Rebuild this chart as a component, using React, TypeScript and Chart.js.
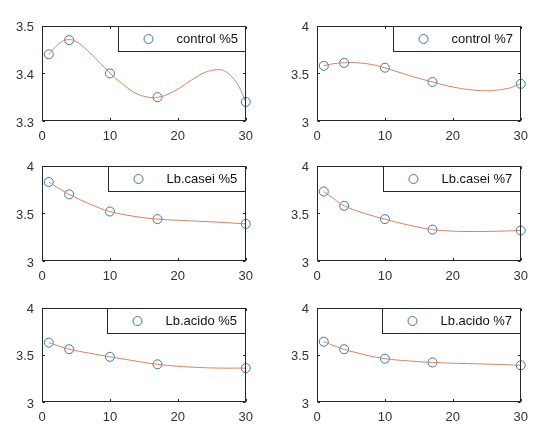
import React, { useEffect, useRef } from "react";
import { Chart, registerables } from "chart.js";

Chart.register(...registerables);

// ---- data ----
const days = [1, 4, 10, 17, 30];

const control5 = [3.44, 3.47, 3.4, 3.35, 3.34];
const control7 = [3.58, 3.61, 3.56, 3.41, 3.39];
const casei5 = [3.83, 3.7, 3.52, 3.44, 3.39];
const casei7 = [3.73, 3.58, 3.44, 3.33, 3.32];
const acido5 = [3.63, 3.56, 3.48, 3.4, 3.36];
const acido7 = [3.64, 3.56, 3.46, 3.42, 3.39];

// fitted curves
const fitXControl5 = [1, 2, 3, 4, 5, 6, 7, 8.5, 10, 12, 14, 16, 17, 18, 20, 22, 24, 26, 27, 28, 29, 30];
const fitControl5 = [3.44, 3.456, 3.467, 3.471, 3.467, 3.457, 3.444, 3.423, 3.401, 3.376, 3.357, 3.349, 3.35, 3.353, 3.367, 3.386, 3.402, 3.408, 3.404, 3.392, 3.372, 3.34];

const fitXControl7 = [1, 2, 3, 4, 5, 6, 8, 10, 12, 14, 17, 19, 21, 23, 24.5, 26, 28, 29, 30];
const fitControl7 = [3.58, 3.596, 3.607, 3.612, 3.614, 3.611, 3.594, 3.558, 3.513, 3.468, 3.41, 3.373, 3.344, 3.325, 3.318, 3.321, 3.341, 3.362, 3.39];

const fitXMono = [1, 2.5, 4, 7, 10, 13.5, 17, 20, 23, 26, 30];
const fitCasei5 = [3.83, 3.762, 3.7, 3.6, 3.52, 3.47, 3.44, 3.428, 3.418, 3.407, 3.39];
const fitCasei7 = [3.73, 3.652, 3.58, 3.5, 3.44, 3.377, 3.33, 3.314, 3.31, 3.312, 3.32];
const fitAcido5 = [3.63, 3.594, 3.56, 3.518, 3.48, 3.438, 3.4, 3.38, 3.367, 3.36, 3.36];
const fitAcido7 = [3.64, 3.598, 3.56, 3.502, 3.46, 3.436, 3.42, 3.412, 3.406, 3.4, 3.39];

const seriesLabels = ["control %5", "control %7", "Lb.casei %5", "Lb.casei %7", "Lb.acido %5", "Lb.acido %7"];

const xTicks = [0, 10, 20, 30];
const xTickLabels = ["0", "10", "20", "30"];
const yTicksA = [3.3, 3.4, 3.5];
const yTickLabelsA = ["3.3", "3.4", "3.5"];
const yTicksB = [3, 3.5, 4];
const yTickLabelsB = ["3", "3.5", "4"];

// ---- styles / layout ----
const FONT = "'Liberation Sans', Arial, Helvetica, sans-serif";
const TEXT = "#333333";
const AXIS = "#262626";
const BLUE = "#3b78a8";
const ORANGE = "#d4835f";

const colLeft = [42, 317];
const rowTop = [20, 160, 302];
const rowHeight = [101, 101, 100];
const plotWidth = 209;
const padL = 42;
const padT = 10;
const padR = 10;
const padB = 24;

type PanelProps = {
  label: string;
  ys: number[];
  fitX: number[];
  fitY: number[];
  yTicks: number[];
  yTickLabels: string[];
  left: number;
  top: number;
  height: number;
};

const boxPlugin = {
  id: "matlabBox",
  afterDraw(chart: any) {
    const { ctx, chartArea: a, scales } = chart;
    const label: string = chart.options.plugins.matlabBox.label;
    const yTicks: number[] = chart.options.plugins.matlabBox.yTicks;
    ctx.save();
    ctx.strokeStyle = AXIS;
    ctx.lineWidth = 1;
    const l = Math.round(a.left) + 0.5;
    const r = Math.round(a.right) - 0.5;
    const t = Math.round(a.top) + 0.5;
    const b = Math.round(a.bottom) - 0.5;
    ctx.strokeRect(l, t, r - l, b - t);
    const tl = 2.5;
    ctx.beginPath();
    for (const v of xTicks) {
      const px = Math.round(scales.x.getPixelForValue(v)) + 0.5;
      ctx.moveTo(px, b);
      ctx.lineTo(px, b - tl);
      ctx.moveTo(px, t);
      ctx.lineTo(px, t + tl);
    }
    for (const v of yTicks) {
      const py = Math.round(scales.y.getPixelForValue(v)) + 0.5;
      ctx.moveTo(l, py);
      ctx.lineTo(l + tl, py);
      ctx.moveTo(r, py);
      ctx.lineTo(r - tl, py);
    }
    ctx.stroke();

    // legend box, top-right inside the axes
    ctx.font = `13px ${FONT}`;
    const tw = ctx.measureText(label).width;
    const w = Math.round(tw + 66);
    const h = 25;
    const lx = r - w;
    ctx.fillStyle = "#ffffff";
    ctx.fillRect(lx, t, w, h);
    ctx.strokeStyle = AXIS;
    ctx.strokeRect(lx, t, w, h);
    ctx.beginPath();
    ctx.strokeStyle = BLUE;
    ctx.arc(lx + 30, t + h / 2, 4.5, 0, Math.PI * 2);
    ctx.stroke();
    ctx.fillStyle = "#111111";
    ctx.textBaseline = "middle";
    ctx.textAlign = "left";
    ctx.fillText(label, lx + 58, t + h / 2 + 0.5);
    ctx.restore();
  },
};

function Panel(p: PanelProps) {
  const ref = useRef<HTMLCanvasElement>(null);
  const cw = padL + plotWidth + padR;
  const ch = padT + p.height + padB;
  useEffect(() => {
    if (!ref.current) return;
    const chart = new Chart(ref.current, {
      type: "scatter",
      data: {
        datasets: [
          {
            label: "fit",
            data: p.fitX.map((x, i) => ({ x, y: p.fitY[i] })),
            showLine: true,
            borderColor: ORANGE,
            borderWidth: 1,
            pointRadius: 0,
            tension: 0.4,
            clip: false,
          } as any,
          {
            label: p.label,
            data: days.map((x, i) => ({ x, y: p.ys[i] })),
            showLine: false,
            pointRadius: 4.5,
            pointBorderWidth: 1,
            borderColor: BLUE,
            pointBorderColor: BLUE,
            backgroundColor: "rgba(0,0,0,0)",
            pointBackgroundColor: "rgba(0,0,0,0)",
            clip: false,
          } as any,
        ],
      },
      options: {
        animation: false,
        responsive: false,
        maintainAspectRatio: false,
        events: [],
        layout: { padding: { top: padT, right: padR, left: 0, bottom: 0 } },
        plugins: {
          legend: { display: false },
          tooltip: { enabled: false },
          matlabBox: { label: p.label, yTicks: p.yTicks },
        } as any,
        scales: {
          x: {
            type: "linear",
            min: 0,
            max: 30,
            afterBuildTicks: (s: any) => {
              s.ticks = xTicks.map((v) => ({ value: v }));
            },
            afterFit: (s: any) => {
              s.height = padB;
            },
            ticks: {
              padding: 8,
              color: TEXT,
              font: { family: FONT, size: 13 },
              maxRotation: 0,
              autoSkip: false,
              callback: (v: any) => {
                const i = xTicks.indexOf(Number(v));
                return i >= 0 ? xTickLabels[i] : "";
              },
            },
            grid: { display: false, drawTicks: false, tickLength: 0 },
            border: { display: false },
          },
          y: {
            type: "linear",
            min: p.yTicks[0],
            max: p.yTicks[p.yTicks.length - 1],
            afterBuildTicks: (s: any) => {
              s.ticks = p.yTicks.map((v) => ({ value: v }));
            },
            afterFit: (s: any) => {
              s.width = padL;
            },
            ticks: {
              padding: 8,
              labelOffset: 2,
              color: TEXT,
              font: { family: FONT, size: 13 },
              autoSkip: false,
              callback: (v: any) => {
                const i = p.yTicks.findIndex((t) => Math.abs(t - Number(v)) < 1e-6);
                return i >= 0 ? p.yTickLabels[i] : "";
              },
            },
            grid: { display: false, drawTicks: false, tickLength: 0 },
            border: { display: false },
          },
        },
      } as any,
      plugins: [boxPlugin],
    });
    return () => chart.destroy();
  }, []);
  return (
    <canvas
      ref={ref}
      width={cw}
      height={ch}
      style={{
        position: "absolute",
        left: p.left - padL,
        top: p.top - padT,
        width: cw,
        height: ch,
      }}
    />
  );
}

const panelValues = [control5, control7, casei5, casei7, acido5, acido7];
const panelFitX = [fitXControl5, fitXControl7, fitXMono, fitXMono, fitXMono, fitXMono];
const panelFitY = [fitControl5, fitControl7, fitCasei5, fitCasei7, fitAcido5, fitAcido7];

export default function App() {
  return (
    <div
      style={{
        position: "absolute",
        left: 0,
        top: 0,
        width: 537,
        height: 426,
        background: "#ffffff",
        overflow: "hidden",
      }}
    >
      {seriesLabels.map((label, i) => {
        const row = Math.floor(i / 2);
        const col = i % 2;
        const first = i === 0;
        return (
          <Panel
            key={label}
            label={label}
            ys={panelValues[i]}
            fitX={panelFitX[i]}
            fitY={panelFitY[i]}
            yTicks={first ? yTicksA : yTicksB}
            yTickLabels={first ? yTickLabelsA : yTickLabelsB}
            left={colLeft[col]}
            top={rowTop[row]}
            height={rowHeight[row]}
          />
        );
      })}
    </div>
  );
}
